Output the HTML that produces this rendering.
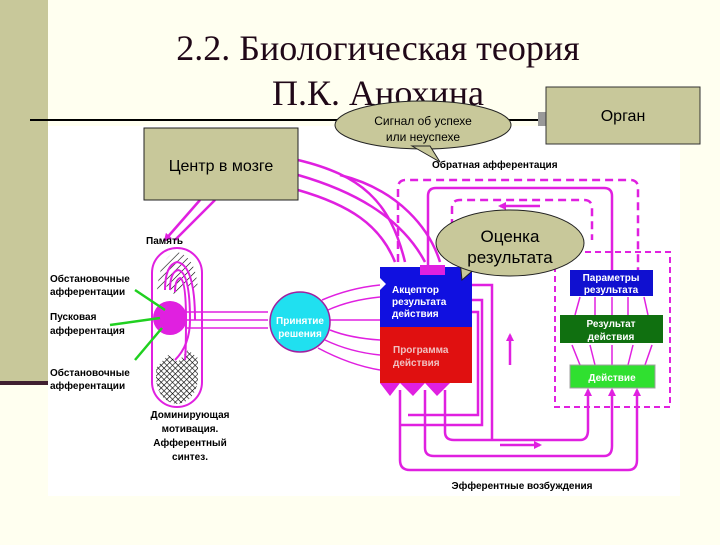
<!DOCTYPE html>
<html><head><meta charset="utf-8"><style>
body{margin:0;background:#fffff0;width:720px;height:540px;overflow:hidden;font-family:"Liberation Sans",sans-serif}
</style></head><body>
<svg width="720" height="540" viewBox="0 0 720 540" xmlns="http://www.w3.org/2000/svg">
<defs>
<pattern id="h" width="5" height="5" patternUnits="userSpaceOnUse" patternTransform="rotate(45)"><rect width="5" height="5" fill="#fff"/><line x1="0" y1="0" x2="0" y2="5" stroke="#000" stroke-width="1.2"/></pattern>
<pattern id="x" width="4" height="4" patternUnits="userSpaceOnUse" patternTransform="rotate(45)"><rect width="4" height="4" fill="#fff"/><path d="M0 0V4M0 0H4" stroke="#000" stroke-width="1.2"/></pattern>
<marker id="a" markerWidth="8" markerHeight="8" refX="6" refY="4" orient="auto" markerUnits="userSpaceOnUse"><path d="M0 0L8 4L0 8z" fill="#e020e0"/></marker>
</defs>
<rect x="0" y="0" width="48" height="385" fill="#c8c89a"/>
<rect x="0" y="381" width="48" height="4" fill="#402030"/>
<rect x="48" y="126" width="632" height="370" fill="#fff"/>
<line x1="30" y1="120" x2="545" y2="120" stroke="#000" stroke-width="2"/>
<rect x="538" y="112" width="8" height="14" fill="#999"/>
<text x="378" y="60" font-family="Liberation Serif" font-size="36" text-anchor="middle" fill="#200818">2.2. Биологическая теория</text>
<text x="378" y="105" font-family="Liberation Serif" font-size="36" text-anchor="middle" fill="#200818">П.К. Анохина</text>
<rect x="546" y="87" width="154" height="57" fill="#c8c89a" stroke="#333"/>
<text x="623" y="121" font-size="16" text-anchor="middle">Орган</text>
<g fill="none" stroke="#e020e0" stroke-width="2.5">
<path d="M298 160 C360 175 390 200 405 262"/>
<path d="M298 175 C350 190 400 215 425 262"/>
<path d="M298 190 C350 205 380 225 395 262"/>
<path d="M200 200 L165 240" marker-end="url(#a)"/>
<path d="M215 200 L175 240"/>
<path d="M340 175 C400 190 430 230 440 262"/>
</g>
<g fill="none" stroke="#e020e0" stroke-width="2.5">
<path d="M398 262 V188 Q398 180 406 180 H630 Q638 180 638 188 V272" stroke-dasharray="8,5"/>
<path d="M428 265 V196 Q428 188 436 188 H604 Q612 188 612 196 V272"/>
<path d="M452 240 V208 Q452 200 460 200 H584 Q592 200 592 208 V240" stroke-dasharray="8,5"/>
<path d="M540 206 H500" marker-end="url(#a)"/>
<rect x="555" y="252" width="115" height="155" stroke-dasharray="6,4" stroke-width="2"/>
<path d="M510 365 V335" marker-end="url(#a)"/>
<path d="M472 285 H492 V440"/><path d="M472 300 H482 V425 H400"/><path d="M472 312 H478 V415 H408"/>
<path d="M400 390 V460 Q400 470 410 470 H628 Q637 470 637 460 V390" marker-end="url(#a)"/>
<path d="M425 390 V448 Q425 456 434 456 H604 Q612 456 612 446 V390" marker-end="url(#a)"/>
<path d="M445 390 V432 Q445 440 454 440 H580 Q588 440 588 430 V390" marker-end="url(#a)"/>
<path d="M500 445 H540" marker-end="url(#a)"/>
</g>
<g stroke="#e020e0" stroke-width="1.5" fill="none">
<path d="M580 365 L572 345"/><path d="M595 365 L590 345"/><path d="M612 365 V345"/><path d="M628 365 L633 345"/><path d="M645 365 L652 345"/>
<path d="M575 315 L580 297"/><path d="M595 315 V297"/><path d="M612 315 V297"/><path d="M628 315 V297"/><path d="M648 315 L644 297"/>
</g>
<rect x="570" y="270" width="83" height="26" fill="#1010d0"/>
<text x="611" y="281" font-size="10" font-weight="bold" fill="#fff" text-anchor="middle">Параметры</text>
<text x="611" y="293" font-size="10" font-weight="bold" fill="#fff" text-anchor="middle">результата</text>
<rect x="560" y="315" width="103" height="28" fill="#107010"/>
<text x="611" y="327" font-size="10" font-weight="bold" fill="#fff" text-anchor="middle">Результат</text>
<text x="611" y="340" font-size="10" font-weight="bold" fill="#fff" text-anchor="middle">действия</text>
<rect x="570" y="365" width="85" height="23" fill="#30e030" stroke="#a0a0a0"/>
<text x="612" y="381" font-size="10" font-weight="bold" fill="#fff" text-anchor="middle">Действие</text>
<path d="M380 327 V290 L386 284 L380 278 V267 H472 V327 Z" fill="#1010e0"/>
<path d="M380 327 H472 V383 H380 Z" fill="#e01010"/>
<path d="M380 383 L390 396 L400 383 L413 396 L425 383 L437 396 L450 383" fill="#e020e0"/>
<rect x="420" y="265" width="25" height="10" fill="#e020e0"/>
<text x="392" y="293" font-size="10" font-weight="bold" fill="#fff">Акцептор</text>
<text x="392" y="305" font-size="10" font-weight="bold" fill="#fff">результата</text>
<text x="392" y="317" font-size="10" font-weight="bold" fill="#fff">действия</text>
<text x="393" y="353" font-size="10" font-weight="bold" fill="#f0c0c0">Программа</text>
<text x="393" y="366" font-size="10" font-weight="bold" fill="#f0c0c0">действия</text>
<rect x="152" y="248" width="50" height="159" rx="25" fill="#fff" stroke="#e020e0" stroke-width="2"/>
<path d="M157 290 Q160 256 177 252 Q196 256 198 290 L185 285 L175 295 L165 285Z" fill="url(#h)"/>
<path d="M156 368 L168 355 L178 362 L188 350 L198 358 L198 380 Q195 402 177 404 Q159 402 156 380Z" fill="url(#x)"/>
<g fill="none" stroke="#e020e0" stroke-width="2">
<path d="M165 290 Q165 265 177 262 Q195 265 195 320"/><path d="M170 290 Q170 272 178 270 Q190 272 190 320"/><path d="M175 292 Q175 280 180 278 Q186 280 186 320"/>
<path d="M190 320 Q190 345 175 360"/><path d="M186 320 Q186 350 185 360"/>
</g>
<circle cx="170" cy="318" r="17" fill="#e020e0"/>
<g stroke="#e020e0" stroke-width="1.5"><line x1="185" y1="312" x2="268" y2="312"/><line x1="185" y1="320" x2="268" y2="320"/><line x1="185" y1="328" x2="268" y2="328"/></g>
<g stroke="#20d020" stroke-width="2.5"><line x1="135" y1="290" x2="165" y2="310"/><line x1="110" y1="325" x2="160" y2="318"/><line x1="135" y1="360" x2="162" y2="328"/></g>
<g stroke="#e020e0" stroke-width="1.5" fill="none">
<path d="M322 300 Q350 288 380 285"/><path d="M328 310 Q350 300 380 297"/><path d="M330 320 H380"/><path d="M330 330 Q350 338 380 340"/><path d="M325 340 Q350 352 380 355"/><path d="M318 348 Q350 365 380 370"/>
</g>
<circle cx="300" cy="322" r="30" fill="#20e0f0" stroke="#a020a0" stroke-width="1.5"/>
<text x="300" y="324" font-size="10" font-weight="bold" fill="#fff" text-anchor="middle">Принятие</text>
<text x="300" y="337" font-size="10" font-weight="bold" fill="#fff" text-anchor="middle">решения</text>
<g font-size="10" font-weight="bold">
<text x="146" y="244">Память</text>
<text x="50" y="282">Обстановочные</text><text x="50" y="295">афферентации</text>
<text x="50" y="320">Пусковая</text><text x="50" y="334">афферентация</text>
<text x="50" y="376">Обстановочные</text><text x="50" y="389">афферентации</text>
<g text-anchor="middle"><text x="190" y="418">Доминирующая</text><text x="190" y="432">мотивация.</text><text x="190" y="446">Афферентный</text><text x="190" y="460">синтез.</text></g>
<text x="432" y="168">Обратная  афферентация</text>
<text x="522" y="489" text-anchor="middle">Эфферентные возбуждения</text>
</g>
<rect x="144" y="128" width="154" height="72" fill="#c8c89a" stroke="#222"/>
<text x="221" y="171" font-size="16" text-anchor="middle">Центр в мозге</text>
<ellipse cx="423" cy="125" rx="88" ry="24" fill="#c8c89a" stroke="#222"/>
<path d="M412 146 L440 162 L430 146 Z" fill="#c8c89a" stroke="#222"/>
<path d="M410 144 L432 144" stroke="#c8c89a" stroke-width="3"/>
<text x="423" y="125" font-size="12" text-anchor="middle">Сигнал об успехе</text>
<text x="423" y="141" font-size="12" text-anchor="middle">или неуспехе</text>
<path d="M460 260 L462 280 L478 266 Z" fill="#c8c89a" stroke="#222"/>
<ellipse cx="510" cy="243" rx="74" ry="33" fill="#c8c89a" stroke="#222"/>
<text x="510" y="242" font-size="17" text-anchor="middle">Оценка</text>
<text x="510" y="263" font-size="17" text-anchor="middle">результата</text>
</svg>
</body></html>
